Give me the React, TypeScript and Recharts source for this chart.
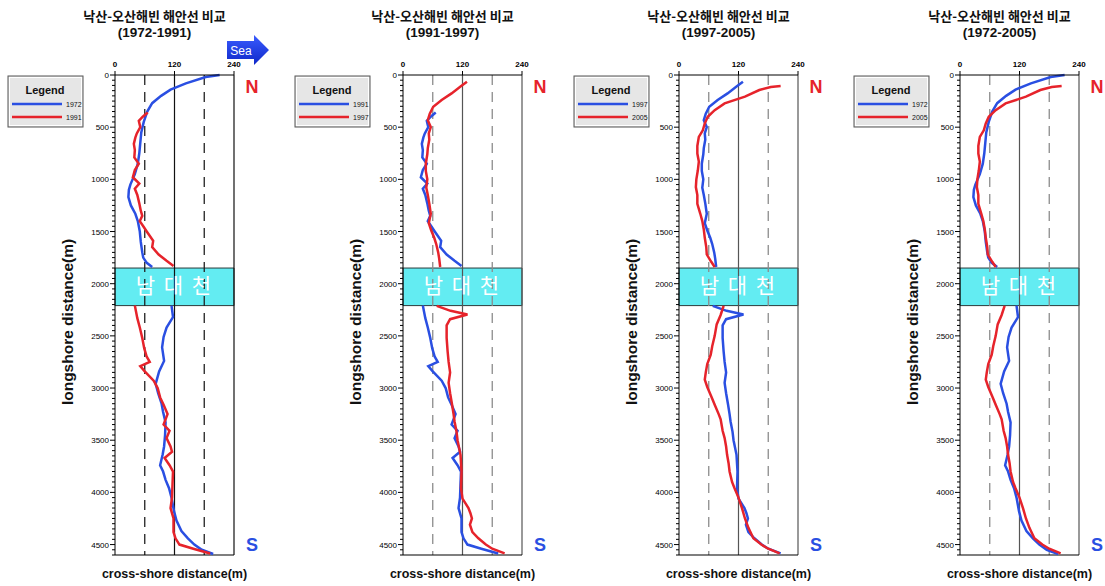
import { LineChart, Line, XAxis, YAxis, ReferenceLine, ReferenceArea } from 'recharts';

const TITLE = '낙산-오산해빈 해안선 비교';
const PERIODS = ['(1972-1991)', '(1991-1997)', '(1997-2005)', '(1972-2005)'];
const PAIRS = [['1972', '1991'], ['1991', '1997'], ['1997', '2005'], ['1972', '2005']];
const X_TICKS = [0, 120, 240];
const Y_MAJOR = [0, 500, 1000, 1500, 2000, 2500, 3000, 3500, 4000, 4500];
const RIVER = [1850, 2210];
const RIVER_NAME = '남 대 천';

// longshore position (m) / cross-shore position (m), null = river mouth gap
const ALONG_1972 = [0, 20, 80, 140, 200, 270, 350, 450, 550, 650, 750, 850, 950, 1050, 1100, 1170, 1250, 1330, 1400, 1500, 1600, 1700, 1750, 1800, 1840, 2000, 2210, 2320, 2420, 2510, 2610, 2740, 2840, 2960, 3050, 3150, 3230, 3330, 3450, 3560, 3640, 3740, 3800, 3880, 3960, 4050, 4180, 4270, 4370, 4440, 4500, 4550, 4590];
const CROSS_1972 = [211, 183, 143, 112, 93, 75, 65, 58, 53, 51, 49, 46, 40, 31, 28, 27, 32, 41, 46, 50, 52, 55, 57, 64, 75, null, 114, 117, 104, 98, 95, 99, 89, 82, 87, 94, 97, 102, 101, 99, 96, 91, 97, 102, 109, 114, 119, 124, 134, 147, 160, 175, 198];

const ALONG_1991 = [360, 400, 440, 500, 560, 600, 660, 720, 790, 850, 910, 980, 1040, 1090, 1150, 1230, 1300, 1350, 1400, 1450, 1500, 1590, 1650, 1720, 1780, 1830, 2000, 2210, 2330, 2420, 2520, 2620, 2700, 2750, 2790, 2840, 2930, 3000, 3090, 3160, 3250, 3350, 3410, 3480, 3560, 3610, 3670, 3740, 3800, 3920, 4050, 4150, 4250, 4380, 4440, 4500, 4540, 4585];
const CROSS_1991 = [66, 56, 48, 51, 44, 41, 38, 40, 39, 48, 40, 36, 49, 40, 45, 49, 52, 55, 50, 57, 64, 77, 75, 88, 104, 118, null, 40, 45, 50, 55, 59, 64, 70, 51, 60, 78, 86, 91, 98, 106, 98, 110, 104, 112, 115, 100, 110, 117, 116, 115, 112, 118, 118, 122, 130, 158, 192];

const ALONG_1997 = [64, 110, 176, 240, 304, 370, 433, 500, 560, 620, 700, 760, 850, 920, 1000, 1080, 1150, 1230, 1330, 1420, 1490, 1560, 1620, 1700, 1760, 1840, 2000, 2212, 2260, 2295, 2340, 2400, 2520, 2650, 2750, 2850, 2950, 3050, 3160, 3250, 3320, 3420, 3500, 3640, 3800, 3960, 4060, 4150, 4200, 4250, 4310, 4380, 4440, 4500, 4540, 4585];
const CROSS_1997 = [129, 116, 98, 78, 61, 54, 50, 56, 52, 53, 50, 49, 46, 46, 49, 47, 50, 53, 56, 52, 57, 63, 67, 71, 73, 75, null, 68, 96, 130, 95, 88, 88, 90, 92, 95, 92, 95, 99, 102, 104, 108, 110, 116, 118, 117, 120, 132, 136, 139, 135, 140, 152, 167, 180, 205];

const ALONG_2005 = [106, 115, 144, 208, 272, 337, 400, 465, 530, 593, 680, 753, 830, 913, 1000, 1074, 1150, 1234, 1330, 1400, 1480, 1560, 1650, 1720, 1790, 1840, 2000, 2212, 2300, 2390, 2500, 2600, 2680, 2770, 2850, 2920, 2990, 3090, 3160, 3250, 3300, 3410, 3480, 3560, 3640, 3720, 3800, 3900, 3960, 4050, 4150, 4250, 4340, 4440, 4500, 4540, 4585];
const CROSS_2005 = [205, 185, 162, 133, 92, 72, 58, 52, 48, 40, 37, 37, 40, 38, 35, 34, 37, 37, 43, 47, 50, 52, 55, 56, 65, 72, null, 90, 84, 76, 72, 67, 64, 57, 54, 52, 57, 66, 72, 80, 84, 88, 92, 95, 97, 100, 102, 107, 112, 120, 127, 133, 140, 150, 166, 180, 203];

const SERIES: Record<string, [number[], (number | null)[]]> = {
  '1972': [ALONG_1972, CROSS_1972],
  '1991': [ALONG_1991, CROSS_1991],
  '1997': [ALONG_1997, CROSS_1997],
  '2005': [ALONG_2005, CROSS_2005],
};

// split a year's shoreline at the river mouth gap (null entries)
const toSegments = (year: string) => {
  const [along, cross] = SERIES[year];
  const segs: { y: number; x: number }[][] = [[]];
  along.forEach((y, i) => {
    const x = cross[i];
    if (x == null) {
      segs.push([]);
    } else {
      segs[segs.length - 1].push({ y, x });
    }
  });
  return segs.filter((s) => s.length > 1);
};

const BLUE = '#2a4fe2';
const RED = '#e6232b';
const LATIN = '"Liberation Sans", Arial, sans-serif';
const KOREAN = '"Noto Sans CJK KR", sans-serif';

const PLOT_LEFT = [115, 403, 679, 960];
const PLOT_W = 119;
const PLOT_TOP = 75;
const PLOT_H = 480;
const Y_AXIS_W = 60;
const X_AXIS_H = 25;
const RIGHT_PAD = 14;

const MINOR_TICKS = Array.from({ length: 93 }, (_, i) => i * 50);

const YTick = ({ x, y, payload }: any) => {
  const major = Y_MAJOR.includes(payload.value);
  return (
    <g>
      <line x1={x} x2={x - (major ? 5 : 3)} y1={y} y2={y} stroke="#000" strokeWidth={1} />
      {major && (
        <text x={x - 6} y={y + 3} textAnchor="end" fontSize={8} fontFamily={LATIN} fill="#000">
          {payload.value}
        </text>
      )}
    </g>
  );
};

const XTick = ({ x, y, payload }: any) => (
  <g>
    <line x1={x} x2={x} y1={y} y2={y - 4} stroke="#000" strokeWidth={1} />
    <text x={x} y={y - 8} textAnchor="middle" fontSize={8} fontFamily={LATIN} fontWeight="bold" fill="#000">
      {payload.value}
    </text>
  </g>
);

function Panel({ i }: { i: number }) {
  const [a, b] = PAIRS[i];
  const first = i === 0;
  const dashColor = first ? '#222' : '#8c8c8c';
  const solidColor = first ? '#111' : '#555';
  return (
    <div style={{ position: 'absolute', left: PLOT_LEFT[i] - Y_AXIS_W, top: PLOT_TOP - X_AXIS_H }}>
      <LineChart
        width={Y_AXIS_W + PLOT_W + RIGHT_PAD}
        height={X_AXIS_H + PLOT_H + 5}
        layout="vertical"
        margin={{ top: 0, right: RIGHT_PAD, bottom: 5, left: 0 }}
      >
        <XAxis
          type="number"
          orientation="top"
          domain={[0, 240]}
          ticks={X_TICKS}
          height={X_AXIS_H}
          tick={<XTick />}
          tickLine={false}
          tickSize={0}
          tickMargin={0}
          interval={0}
          stroke="#000"
        />
        <YAxis
          type="number"
          dataKey="y"
          domain={[0, 4600]}
          ticks={MINOR_TICKS}
          width={Y_AXIS_W}
          tick={<YTick />}
          tickLine={false}
          tickSize={0}
          tickMargin={0}
          interval={0}
          stroke="#000"
        />
        <ReferenceLine x={60} stroke={dashColor} strokeWidth={1.3} strokeDasharray="10 7" />
        <ReferenceLine x={180} stroke={dashColor} strokeWidth={1.3} strokeDasharray="10 7" />
        <ReferenceLine x={120} stroke={solidColor} strokeWidth={1.2} />
        <ReferenceLine x={240} stroke={solidColor} strokeWidth={1.2} />
        <ReferenceLine y={4600} stroke="#000" strokeWidth={1.2} />
        <ReferenceArea
          y1={RIVER[0]}
          y2={RIVER[1]}
          fill="#63ecf2"
          fillOpacity={1}
          stroke="#2a3a3a"
          strokeWidth={1}
        />
        {toSegments(a).map((seg, k) => (
          <Line key={`a${k}`} data={seg} dataKey="x" stroke={BLUE} strokeWidth={2.5} dot={false} isAnimationActive={false} />
        ))}
        {toSegments(b).map((seg, k) => (
          <Line key={`b${k}`} data={seg} dataKey="x" stroke={RED} strokeWidth={2.5} dot={false} isAnimationActive={false} />
        ))}
      </LineChart>
    </div>
  );
}

const LEGEND_LEFT = [8, 295, 574, 854];

function Overlay() {
  return (
    <svg width={1105} height={586} style={{ position: 'absolute', left: 0, top: 0, pointerEvents: 'none' }}>
      <defs>
        <linearGradient id="seaGrad" x1="0" y1="0" x2="0" y2="1">
          <stop offset="0" stopColor="#3a5cff" />
          <stop offset="1" stopColor="#0f28c8" />
        </linearGradient>
      </defs>
      {PLOT_LEFT.map((pl, i) => {
        const cx = pl + PLOT_W / 2;
        const [a, b] = PAIRS[i];
        const lx = LEGEND_LEFT[i];
        return (
          <g key={i}>
            <text x={cx - 20} y={21} textAnchor="middle" fontSize={13} fontWeight="bold" fontFamily={KOREAN} fill="#111">
              {TITLE}
            </text>
            <text x={cx - 20} y={37} textAnchor="middle" fontSize={13.5} fontWeight="bold" fontFamily={LATIN} fill="#111">
              {PERIODS[i]}
            </text>
            <text x={cx} y={293} textAnchor="middle" fontSize={21} fontFamily={KOREAN} fill="#fff" letterSpacing={2}>
              {RIVER_NAME}
            </text>
            <text
              x={pl - 42}
              y={322}
              transform={`rotate(-90 ${pl - 42} 322)`}
              textAnchor="middle"
              fontSize={15.5}
              fontWeight="bold"
              fontFamily={LATIN}
              fill="#111"
            >
              longshore distance(m)
            </text>
            <text x={cx} y={578} textAnchor="middle" fontSize={12.5} fontWeight="bold" fontFamily={LATIN} fill="#111">
              cross-shore distance(m)
            </text>
            <text x={pl + PLOT_W + 18} y={93} textAnchor="middle" fontSize={18} fontWeight="bold" fontFamily={LATIN} fill={RED}>
              N
            </text>
            <text x={pl + PLOT_W + 18} y={551} textAnchor="middle" fontSize={18} fontWeight="bold" fontFamily={LATIN} fill={BLUE}>
              S
            </text>
            <rect x={lx} y={76} width={75} height={51} fill="#e6e6e6" stroke="#555" strokeWidth={1} />
            <rect x={lx + 1.5} y={77.5} width={72} height={48} fill="none" stroke="#fff" strokeWidth={1} />
            <text x={lx + 37} y={94} textAnchor="middle" fontSize={11} fontWeight="bold" fontFamily={LATIN} fill="#111">
              Legend
            </text>
            <line x1={lx + 4} x2={lx + 54} y1={104} y2={104} stroke={BLUE} strokeWidth={2.5} />
            <text x={lx + 58} y={106.5} fontSize={7} fontFamily={LATIN} fill="#111">{a}</text>
            <line x1={lx + 4} x2={lx + 54} y1={117} y2={117} stroke={RED} strokeWidth={2.5} />
            <text x={lx + 58} y={119.5} fontSize={7} fontFamily={LATIN} fill="#111">{b}</text>
          </g>
        );
      })}
      <polygon points="227,41 254,41 254,35 269,50 254,65 254,59 227,59" fill="url(#seaGrad)" />
      <text x={241} y={54.5} textAnchor="middle" fontSize={12} fontFamily={LATIN} fill="#fff">
        Sea
      </text>
    </svg>
  );
}

export default function App() {
  return (
    <div style={{ position: 'absolute', left: 0, top: 0, width: 1105, height: 586, background: '#fff', overflow: 'hidden' }}>
      {[0, 1, 2, 3].map((i) => (
        <Panel key={i} i={i} />
      ))}
      <Overlay />
    </div>
  );
}
